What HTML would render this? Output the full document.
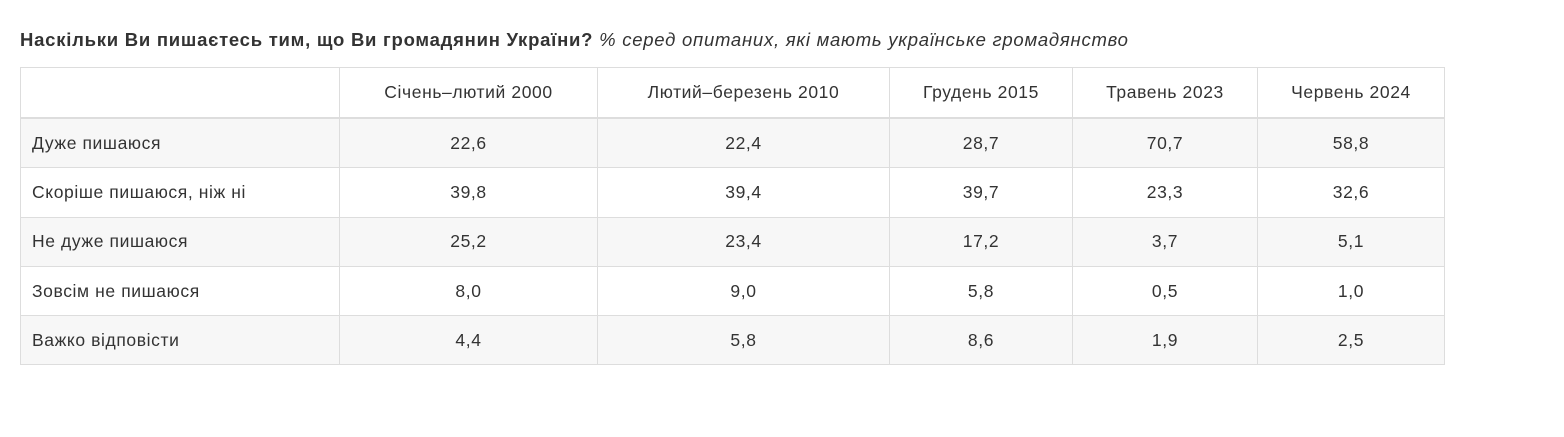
<!DOCTYPE html>
<html><head><meta charset="utf-8"><style>
body{margin:0;width:1564px;height:437px;background:#fff;font-family:"Liberation Sans",sans-serif;color:#333;}
.t{position:absolute;left:20px;top:29px;font-size:18.5px;letter-spacing:0.75px;white-space:nowrap;}
.t b{font-weight:bold;}
.t i{font-weight:normal;}
table{position:absolute;left:20px;top:67px;border-collapse:collapse;font-size:17.5px;letter-spacing:0.6px;}
td,th{border:1px solid #ddd;height:48.3px;padding:0;font-weight:normal;}
th{height:49px;border-bottom:2px solid #ddd;text-align:center;}
td{text-align:center;}
td:first-child{text-align:left;padding-left:11px;}
tr.s td{background:#f7f7f7;}
</style></head><body>
<div class="t"><b>Наскільки Ви пишаєтесь тим, що Ви громадянин України?</b> <i>% серед опитаних, які мають українське громадянство</i></div>
<table>
<colgroup><col style="width:319px"><col style="width:258px"><col style="width:292px"><col style="width:183px"><col style="width:185px"><col style="width:187px"></colgroup>
<tr><th></th><th>Січень–лютий 2000</th><th>Лютий–березень 2010</th><th>Грудень 2015</th><th>Травень 2023</th><th>Червень 2024</th></tr>
<tr class="s"><td>Дуже пишаюся</td><td>22,6</td><td>22,4</td><td>28,7</td><td>70,7</td><td>58,8</td></tr>
<tr><td>Скоріше пишаюся, ніж ні</td><td>39,8</td><td>39,4</td><td>39,7</td><td>23,3</td><td>32,6</td></tr>
<tr class="s"><td>Не дуже пишаюся</td><td>25,2</td><td>23,4</td><td>17,2</td><td>3,7</td><td>5,1</td></tr>
<tr><td>Зовсім не пишаюся</td><td>8,0</td><td>9,0</td><td>5,8</td><td>0,5</td><td>1,0</td></tr>
<tr class="s"><td>Важко відповісти</td><td>4,4</td><td>5,8</td><td>8,6</td><td>1,9</td><td>2,5</td></tr>
</table>
</body></html>
